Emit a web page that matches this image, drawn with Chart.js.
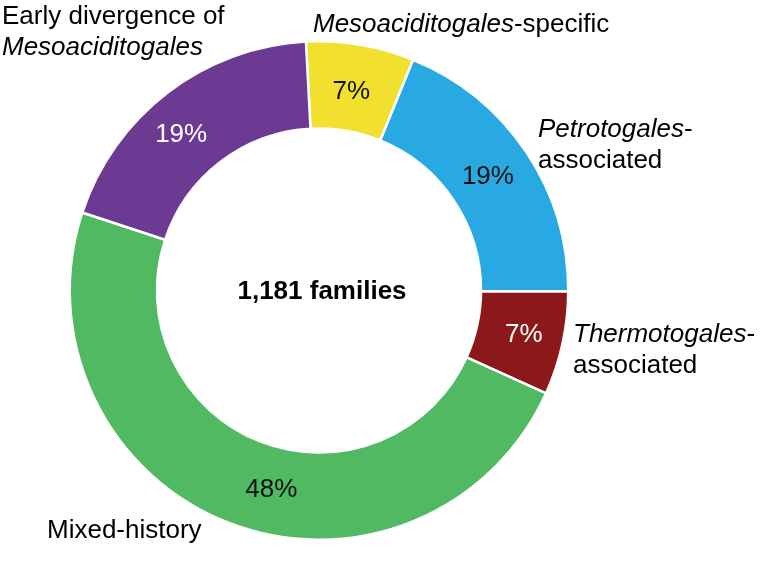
<!DOCTYPE html>
<html>
<head>
<meta charset="utf-8">
<script src="https://cdn.jsdelivr.net/npm/chart.js@4.4.1/dist/chart.umd.min.js"></script>
<style>
  html, body { margin: 0; padding: 0; background: #fff; }
  #wrap { width: 770px; height: 582px; position: relative; }
</style>
</head>
<body>
<div id="wrap"><canvas id="donut"></canvas></div>
<script>
// shares (percent of 1,181 families), clockwise from top
const categories = ['Mesoaciditogales-specific', 'Petrotogales-associated', 'Thermotogales-associated', 'Mixed-history', 'Early divergence of Mesoaciditogales'];
const shares = [7.0, 18.9, 6.7, 48.3, 19.1];
const sliceColors = ['#F1E12E', '#29A9E1', '#8B181B', '#52B963', '#6C3A93'];
const pctTextColors = ['#111', '#111', '#fff', '#111', '#fff'];
const centerText = '1,181 families';

// outside labels: lines of [text, italic] runs
const outsideLabels = [
    [[['Mesoaciditogales', true], ['-specific', false]]],
    [[['Petrotogales', true], ['-', false]], [['associated', false]]],
    [[['Thermotogales', true], ['-', false]], [['associated', false]]],
    [[['Mixed-history', false]]],
    [[['Early divergence of', false]], [['Mesoaciditogales', true]]]
];

const FONT = '"Liberation Sans", Arial, Helvetica, sans-serif';
const FS = 26;
// where each outside label starts, relative to the ring centre (px)
const labelAnchors = [
    { dx: -6, dy: -259 },
    { dx: 219, dy: -154 },
    { dx: 254, dy: 51 },
    { dx: -272, dy: 247 },
    { dx: -317, dy: -267 }
];
// small nudges of the % labels away from the arc centroid
const pctNudge = [[-2, 3], [-2, 0], [4, 0], [27, 7], [-13, 7]];
const lineGap = 31;

const donutText = {
    id: 'donutText',
    afterDatasetsDraw(chart) {
        const ctx = chart.ctx;
        const arcs = chart.getDatasetMeta(0).data;
        const total = shares.reduce((a, b) => a + b, 0);
        ctx.save();
        ctx.textBaseline = 'middle';
        ctx.textAlign = 'center';
        ctx.font = FS + 'px ' + FONT;
        arcs.forEach((arc, i) => {
            const p = arc.tooltipPosition();
            ctx.fillStyle = pctTextColors[i];
            ctx.fillText(Math.round(shares[i] / total * 100) + '%', p.x + pctNudge[i][0], p.y + 1 + pctNudge[i][1]);
        });

        const cx = arcs[0].x, cy = arcs[0].y;
        ctx.font = 'bold ' + FS + 'px ' + FONT;
        ctx.fillStyle = '#000';
        ctx.fillText(centerText, cx + 3, cy + 1);

        ctx.textAlign = 'left';
        ctx.textBaseline = 'alphabetic';
        outsideLabels.forEach((lines, i) => {
            const a = labelAnchors[i];
            lines.forEach((runs, li) => {
                let x = cx + a.dx;
                const y = cy + a.dy + li * lineGap;
                runs.forEach(([txt, it]) => {
                    ctx.font = (it ? 'italic ' : '') + FS + 'px ' + FONT;
                    ctx.fillText(txt, x, y);
                    x += ctx.measureText(txt).width;
                });
            });
        });
        ctx.restore();
    }
};

new Chart(document.getElementById('donut'), {
    type: 'doughnut',
    data: {
        labels: categories,
        datasets: [{
            data: shares,
            backgroundColor: sliceColors,
            borderColor: '#fff',
            borderWidth: 2.5
        }]
    },
    options: {
        responsive: true,
        maintainAspectRatio: false,
        animation: false,
        rotation: -3,
        cutout: '65%',
        layout: { padding: { left: 68, right: 200, top: 40, bottom: 41 } },
        plugins: {
            legend: { display: false },
            tooltip: { enabled: false }
        }
    },
    plugins: [donutText]
});
</script>
</body>
</html>
